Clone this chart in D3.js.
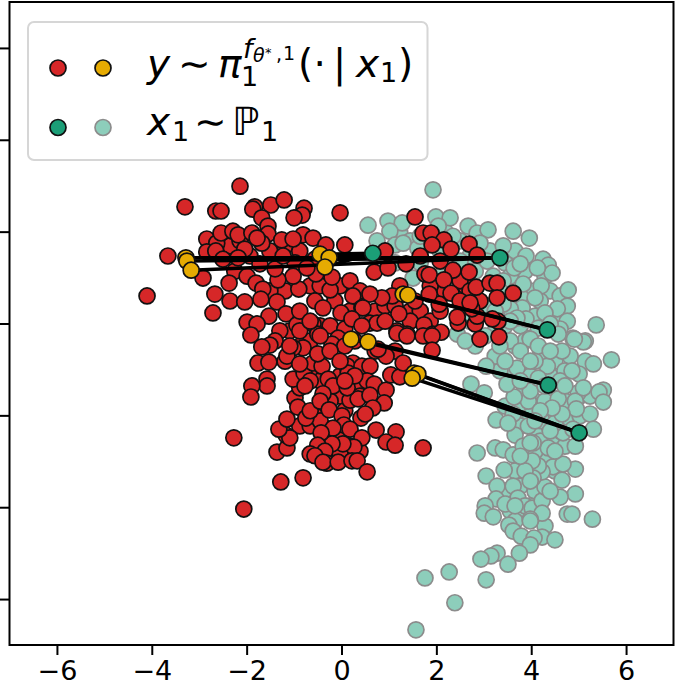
<!DOCTYPE html>
<html><head><meta charset="utf-8">
<script src="https://cdn.jsdelivr.net/npm/d3@7"></script>
<style>html,body{margin:0;padding:0;background:#fff}svg{display:block}text{font-family:"DejaVu Sans"}</style>
</head><body><div id="c"></div>
<script>
const xTicks=[-6,-4,-2,0,2,4,6];
const yTicks=[-6,-4,-2,0,2,4,6];
const priorX=[1.23,1.45,1.87,2.18,2.50,2.71,3.13,3.45,3.66,3.56,3.87,3.98,3.77,4.29,4.40,4.61,4.19,4.50,4.08,3.77,3.45,3.24,3.66,3.87,4.19,4.50,4.82,5.14,3.87,3.56,3.98,4.40,4.71,5.03,3.77,4.08,4.40,4.71,5.24,3.77,3.98,4.29,4.50,4.82,5.03,3.77,4.08,3.45,4.71,4.19,3.87,4.29,4.08,3.66,3.45,3.77,4.08,3.56,3.87,4.29,3.98,3.66,4.50,4.61,3.34,3.24,2.82,2.71,2.08,2.61,2.82,1.66,1.13,
1.93,.56,.98,1.28,1.02,1.99,2.29,2.67,2.86,3.09,3.62,3.96,3.41,3.89,4.25,4.36,4.44,4.13,3.64,3.77,4.78,4.21,3.83,5.37,4.76,4.55,4.29,3.81,4.76,4.61,4.88,5.14,3.98,3.89,3.56,3.07,3.20,1.51,2.44,.75,1.13,1.30,1.61,2.35,2.04,2.92,3.07,3.41,3.70,4.08,3.41,4.15,4.40,5.69,5.31,5.10,4.91,4.65,5.01,5.52,5.43,5.52,4.99,5.24,5.31,4.93,4.67,4.36,4.04,3.94,3.64,3.49,3.70,3.45,3.05,2.73,3.01,3.26,3.66,2.86,3.24,3.41,3.62,3.05,3.43,3.28,3.62,3.72,3.26,3.03,3.01,3.20,3.45,3.87,4.02,4.23,4.23,3.98,4.76,4.86,5.29,4.93,4.61,4.29,4.65,4.93,4.46,4.67,4.23,4.15,4.02,4.04,3.94,4.23,4.50,3.62,3.51,4.34,4.08,3.98,4.15,4.57,4.61,4.86,4.29,4.57,4.93,4.95,4.65,4.44,4.19,3.98,3.77,4.15,5.10,4.88,3.83,3.98,3.53,3.62,3.79,3.98,4.23,4.06,4.50,3.98,3.75,3.28,3.15,2.94,3.51,2.27,1.76,3.05,2.39,1.57,1.66,2.08,2.50,3.34,3.56,3.24,3.03,3.56,3.77,3.98,3.34,2.61,4.40,4.29,4.71,4.40,4.08,3.87,3.77,4.50,3.66,4.40,3.98];
const priorY=[1.97,1.80,1.90,2.01,1.80,1.47,1.58,1.32,1.58,1.03,1.14,.71,.60,1.03,.71,.60,.49,.05,.16,-.05,-.05,-.16,-.49,-.38,-.71,-.82,-.71,-.82,-1.14,-1.14,-1.14,-1.14,-1.03,-1.58,-1.58,-1.69,-1.58,-1.69,-1.58,-1.90,-2.01,-2.34,-2.45,-2.12,-2.01,-2.23,-2.38,-1.80,-2.67,-2.56,-2.89,-2.89,-2.78,-3.21,-3.65,-3.54,-3.65,-4.08,-4.19,-4.41,-3.97,-4.30,-3.21,-2.34,-1.03,-.71,-.49,.05,1.03,1.03,1.14,1.32,1.32,
2.91,2.14,2.23,2.19,2.01,2.32,2.30,2.12,1.97,2.04,2.01,1.86,1.69,1.47,1.40,1.27,1.10,1.21,1.21,1.30,.73,.82,.86,-.03,.38,.32,.23,.34,.05,-.12,-.32,-.38,-.32,.10,.32,.38,1.03,.99,-.23,1.80,1.71,1.75,1.64,1.90,2.12,1.75,1.36,.93,.12,.56,.42,-.10,-.01,-.79,-.88,-.40,-.34,-.60,-1.10,-1.45,-1.49,-1.71,-1.51,-1.97,-2.30,-2.67,-2.38,-2.71,-2.60,-1.69,-1.60,-1.32,-.97,-.82,-.93,-1.32,-1.51,-2.10,-2.43,-2.82,-2.71,-2.75,-2.86,-3.32,-3.19,-3.54,-3.54,-3.80,-3.82,-3.97,-4.13,-4.21,-3.93,-3.97,-4.02,-3.86,-4.13,-4.26,-4.15,-4.15,-4.26,-3.71,-3.78,-3.56,-3.41,-3.17,-3.12,-3.06,-3.23,-3.10,-2.99,-3.36,-2.23,-2.12,-2.17,-1.97,-2.17,-.93,-.82,-.34,-.49,-.23,-1.25,-1.03,-1.69,-1.64,-1.69,-1.86,-1.97,-1.84,-1.90,-1.47,-1.25,-1.19,-1.40,-2.30,-2.67,-2.60,-4.39,-4.52,-4.63,-4.30,-4.65,-4.67,-4.71,-4.82,-5.00,-5.00,-5.06,-5.13,-5.24,-5.41,-5.54,-5.58,-6.08,-6.67,1.90,1.58,1.36,.71,.05,.27,-.27,-.38,-.60,-.82,-.49,-.38,-.60,-1.36,-1.36,-2.34,-2.12,-3.21,-2.89,-2.78,-3.97,-3.65,-3.43];
const sampleX=[-2.35,-2.14,-1.93,-2.25,-1.51,-1.19,-.88,-.98,-.56,-.66,-.45,-.03,.18,.39,-1.19,-1.51,-.56,-.14,.18,.71,.92,1.13,1.45,1.66,.28,-.45,-.66,-.24,.07,-1.09,-1.30,-1.40,-.88,-1.19,-.66,-.45,-.03,.28,.39,-.03,.07,-.24,-.56,-.88,-.66,-.45,-.03,.18,.39,-.24,-.03,.71,1.13,1.45,1.87,2.08,1.55,2.18,2.61,1.87,1.66,2.08,2.50,2.71,2.92,
-2.14,-3.30,-2.65,-2.54,-3.66,-4.10,-2.92,-2.67,-2.35,-2.04,-2.71,-2.37,-1.99,-1.80,-1.66,-1.70,-1.36,-1.53,-1.99,-1.78,-1.91,-1.17,-.94,-.60,-.88,-.90,-1.02,-1.34,-1.40,-.24,.24,.43,-.01,-.39,-.20,-.54,-.73,-1.83,-1.87,-1.49,-1.21,-1.68,-1.55,-.79,-.83,-1.00,-.03,.07,-2.84,-2.63,-2.54,-2.29,-2.18,-1.89,-1.55,-1.68,-1.78,-1.26,-.81,-.60,-.33,-2.04,-2.84,-2.65,-1.23,-2.50,-2.18,-1.72,-1.02,1.55,1.72,1.89,2.16,1.91,2.31,2.69,2.86,.69,.92,.98,1.36,1.76,1.85,2.35,2.69,2.16,2.31,2.84,3.13,3.28,3.28,3.62,2.50,2.06,1.85,1.23,1.07,.85,.60,.45,.60,.75,1.21,1.17,1.74,1.38,1.93,2.10,2.46,2.44,2.82,2.86,2.75,3.30,3.18,3.32,2.92,2.71,-1.51,-1.68,-1.76,-1.53,-1.57,-1.57,-1.89,-1.91,-2.27,-1.36,-1.15,-1.17,-1.09,-1.32,-1.15,-.98,-.88,-.92,-.75,-.66,-1.02,-.79,-.60,-.81,-1.02,-1.15,-.41,-.50,-.88,-.28,-.18,-.66,-.39,-.45,-.26,.18,.35,.12,.24,.12,.43,.14,.60,.54,.69,.60,.94,.90,.66,1.04,1.23,1.30,.94,.77,1.17,1.38,1.72,1.91,1.91,.41,.50,.01,.05,-.18,.18,.73,1.15,.94,1.13,1.72,.43,.26,.03,-.20,-.43,-.50,-.35,-.66,-.56,-.31,-.39,-.07,.22,.33,.54,-.81,-1.28,-2.06,-.50,-.07,-.20,-.88,-.45,-1.09,-.66,.22,.43,.92,.07,-.24,.28,-.03,.07,-.77];
const sampleY=[1.69,1.80,1.47,1.14,1.58,1.69,1.58,1.32,1.40,.82,.82,.82,.93,.71,.71,.71,.49,.49,.27,.27,.38,.38,.27,.27,-.38,-.05,-.38,-.05,-.12,-.16,-.16,-.38,-.49,-.82,-1.03,-1.25,-1.14,-1.36,-1.58,-1.58,-1.90,-1.69,-2.01,-2.23,-2.23,-2.12,-2.34,-2.67,-2.78,-2.82,-2.82,-.60,-.60,.05,.05,.27,.49,.71,.82,.82,1.47,1.36,.93,.71,.49,
2.99,2.54,2.45,2.45,1.47,.60,.99,.64,.49,.47,.23,.88,1.03,.88,.75,.53,.47,.16,.03,-.01,-.25,.21,-.03,-.01,.27,.75,1.03,.95,1.19,.73,.60,.34,.23,.34,1.01,1.08,1.21,2.54,2.49,2.58,2.69,2.30,2.12,2.51,2.36,2.30,2.41,1.71,1.84,1.75,1.97,2.01,1.93,1.97,1.95,1.75,1.86,1.82,1.93,1.86,1.71,1.62,1.56,1.58,1.47,1.40,1.43,1.30,1.84,2.32,1.97,1.97,1.82,1.71,1.62,1.73,1.49,1.12,1.58,1.21,1.30,1.08,1.06,1.16,1.12,.95,.66,.79,.88,.88,.56,.66,.49,.42,.64,.82,.60,.56,.64,.34,.01,.01,.21,-.16,-.03,-.23,-.23,-.19,.01,.14,-.01,.16,.32,.05,.10,-.29,-.34,.45,-.47,-.51,-.86,-.84,-1.21,-1.36,-1.36,-1.60,-2.49,-2.80,-2.71,-2.43,-2.49,-2.30,-2.08,-1.62,-1.40,-1.82,-2.06,-1.90,-1.21,-1.08,-.86,-.53,-.53,-.71,-.93,-.66,-.88,-1.21,-1.36,-1.25,-1.53,-1.69,-1.88,-1.67,-1.64,-1.40,-.86,-.93,-.93,-1.08,-.93,-1.25,-1.32,-1.56,-1.45,-1.73,-1.84,-1.12,-1.16,-.86,-.71,-.56,-.21,-.27,-.27,-.27,-.58,-2.06,-1.97,-2.01,-2.21,-2.28,-2.30,-2.32,-2.36,-2.58,-2.65,-2.71,-2.49,-2.69,-2.62,-2.62,-2.38,-2.65,-2.78,-2.84,-2.88,-3.04,-3.02,-3.02,-2.99,-2.99,-3.23,-3.36,-3.45,-4.04,-.23,-.32,-.45,-.16,-.27,-.49,.05,.10,-.05,.05,-.49,-.60,-1.14,-.82,-1.25,-1.36];
const sourceX=[.66,3.34,4.34,4.36,5.01];
const sourceY=[1.53,1.43,-.14,-1.34,-2.38];
const targetSource=[1,1,1,0,0,0,2,2,3,3,4,4,4];
const targetX=[-3.28,-3.26,-3.17,-.45,-.26,-.35,1.30,1.40,.20,.56,1.53,1.61,1.49];
const targetY=[1.43,1.36,1.16,1.51,1.43,1.23,.64,.62,-.34,-.40,-1.08,-1.10,-1.19];

const red="#d62728",gold="#e6ab02",green="#1b9e77",teal="#8dcebb",edge="#8c8c8c";
const W=676,H=686,L=9.5,R=673.5,T=2,B=645,rad=8;
const x=d3.scaleLinear().domain([-7,7]).range([L,R]);
const y=d3.scaleLinear().domain([-7,7]).range([B,T]);
const svg=d3.select("#c").append("svg").attr("width",W).attr("height",H);
const dots=(cls,xs,ys,fill,stroke)=>svg.append("g").selectAll("circle").data(xs).join("circle")
  .attr("class",cls).attr("cx",d=>x(d)).attr("cy",(d,i)=>y(ys[i])).attr("r",rad)
  .attr("fill",fill).attr("stroke",stroke).attr("stroke-width",1.7);
dots("prior",priorX,priorY,teal,edge);
dots("sample",sampleX,sampleY,red,"#111");
svg.append("g").selectAll("line").data(targetX).join("line")
  .attr("x1",d=>x(d)).attr("y1",(d,i)=>y(targetY[i]))
  .attr("x2",(d,i)=>x(sourceX[targetSource[i]])).attr("y2",(d,i)=>y(sourceY[targetSource[i]]))
  .attr("stroke","#000").attr("stroke-width",3.5);
dots("source",sourceX,sourceY,green,"#111");
dots("target",targetX,targetY,gold,"#111");

const ax=svg.append("g").attr("transform",`translate(0,${B})`)
  .call(d3.axisBottom(x).tickValues(xTicks).tickSize(10).tickPadding(6).tickFormat(d=>d3.format("d")(d).replace("-","\u2212")));
ax.select(".domain").remove();
ax.selectAll("line").attr("stroke","#000").attr("stroke-width",2);
ax.selectAll("text").attr("fill","#000").style("font-size","27px").style("font-family","DejaVu Sans");
const ay=svg.append("g").attr("transform",`translate(${L},0)`)
  .call(d3.axisLeft(y).tickValues(yTicks).tickSize(10).tickFormat(""));
ay.select(".domain").remove();
ay.selectAll("line").attr("stroke","#000").attr("stroke-width",2);
svg.append("rect").attr("x",L).attr("y",T).attr("width",R-L).attr("height",B-T)
  .attr("fill","none").attr("stroke","#000").attr("stroke-width",2);

// legend
const lg=svg.append("g");
lg.append("rect").attr("x",28).attr("y",22).attr("width",399.5).attr("height",138).attr("rx",6)
  .attr("fill","#fff").attr("fill-opacity",.85).attr("stroke","#d6d6d6").attr("stroke-width",2);
[[58,68,red,"#111"],[103,68,gold,"#111"],[58,127.5,green,"#111"],[103,127.5,teal,edge]].forEach(m=>
  lg.append("circle").attr("cx",m[0]).attr("cy",m[1]).attr("r",rad).attr("fill",m[2]).attr("stroke",m[3]).attr("stroke-width",1.7));
const txt=(px,py,s,size,it)=>lg.append("text").attr("x",px).attr("y",py).text(s)
  .style("font-size",size+"px").style("font-style",it?"italic":"normal").attr("fill","#000");
const fs=39,sub=27,sup2=19;
txt(147,77,"y",fs,1);
txt(178,77,"\u223c",fs,0);
txt(218,77,"π",fs,1);
txt(241,86,"1",sub,0);
txt(243,58,"f",sub,1);
txt(253,62,"θ",sup2,1);
txt(265,57,"*",13,0);
txt(276,61,",",sup2,0);
txt(283,60,"1",sup2,0);
txt(298,77,"(",fs,0);
txt(313.5,77,"·",fs,0);
txt(333,77,"|",fs,0);
txt(356,77,"x",fs,1);
txt(380,82,"1",sub,0);
txt(398,77,")",fs,0);
txt(147,135,"x",fs,1);
txt(172,141,"1",sub,0);
txt(194,135,"\u223c",fs,0);
txt(232,135,"ℙ",fs,1);
txt(261,141,"1",sub,0);
</script></body></html>
